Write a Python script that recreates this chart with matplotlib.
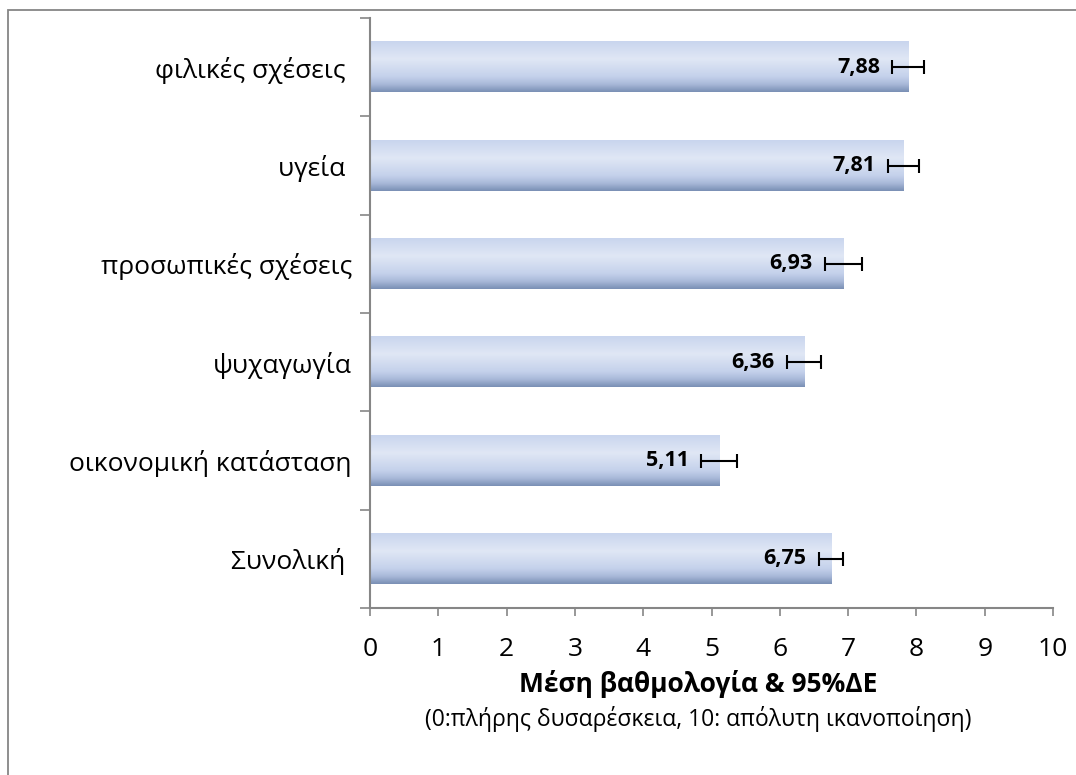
import numpy as np
import matplotlib.pyplot as plt
from matplotlib.colors import LinearSegmentedColormap
from matplotlib.patches import Rectangle

plt.rcParams['font.family'] = ['Open Sans', 'DejaVu Sans']

# δεδομένα (από κάτω προς τα πάνω)
kategories = ['Συνολική ', 'οικονομική κατάσταση', 'ψυχαγωγία',
              'προσωπικές σχέσεις', 'υγεία ', 'φιλικές σχέσεις ']
meses = [6.75, 5.11, 6.36, 6.93, 7.81, 7.88]
de95 = [0.18, 0.26, 0.25, 0.27, 0.23, 0.23]
etiketes = ['6,75', '5,11', '6,36', '6,93', '7,81', '7,88']

fig = plt.figure(figsize=(10.76, 7.75), dpi=100)
ax = fig.add_axes([370/1076, 1 - 608/775, (1053-370)/1076, (608-18)/775])

# διαβάθμιση χρώματος στις μπάρες
grad = LinearSegmentedColormap.from_list('excel', [
    (0.0, '#c9d5ee'), (0.35, '#e0e7f5'), (0.7, '#c4d1eb'),
    (0.85, '#a9b9d9'), (1.0, '#7a90b5')])
g = np.linspace(0, 1, 100).reshape(-1, 1)

y = np.arange(len(kategories))
h = 0.51
for yi, v in zip(y, meses):
    ax.imshow(g, cmap=grad, aspect='auto', origin='upper',
              extent=(0, v, yi - h/2, yi + h/2), zorder=2, interpolation='bicubic')

ax.errorbar(meses, y, xerr=de95, fmt='none', ecolor='black', elinewidth=1.5,
            capsize=5, capthick=1.5, zorder=4)

for yi, v, e, t in zip(y, meses, de95, etiketes):
    ax.annotate(t, xy=(v - e, yi), xytext=(-9, 0), textcoords='offset points',
                ha='right', va='center', fontsize=15.5, fontweight='bold', zorder=5)

ax.set_xlim(0, 10)
ax.set_ylim(-0.5, len(kategories) - 0.5)
ax.set_xticks(range(0, 11))
ax.set_yticks(y)
ax.set_yticklabels(kategories, fontsize=19)
ax.set_yticks(np.arange(-0.5, len(kategories), 1), minor=True)
ax.tick_params(axis='y', which='major', length=0, pad=13)
ax.tick_params(axis='y', which='minor', length=7, color='#868686', width=1.2)
ax.tick_params(axis='x', length=6, color='#868686', width=1.2, pad=15, labelsize=19)

for s in ['top', 'right']:
    ax.spines[s].set_visible(False)
for s in ['left', 'bottom']:
    ax.spines[s].set_color('#868686')
    ax.spines[s].set_linewidth(1.5)

fig.text(698/1076, 1 - 684/775, 'Μέση βαθμολογία & 95%ΔΕ', ha='center', va='center',
         fontsize=19, fontweight='bold')
fig.text(698/1076, 1 - 719/775, '(0:πλήρης δυσαρέσκεια, 10: απόλυτη ικανοποίηση)',
         ha='center', va='center', fontsize=16.5)

# πλαίσιο γραφήματος
fig.patches.append(Rectangle((8/1076, -0.05), 1.1, 1 - 10/775 + 0.05,
                             transform=fig.transFigure, fill=False,
                             edgecolor='#868686', linewidth=1.3))

fig.savefig('out.png', dpi=100)
